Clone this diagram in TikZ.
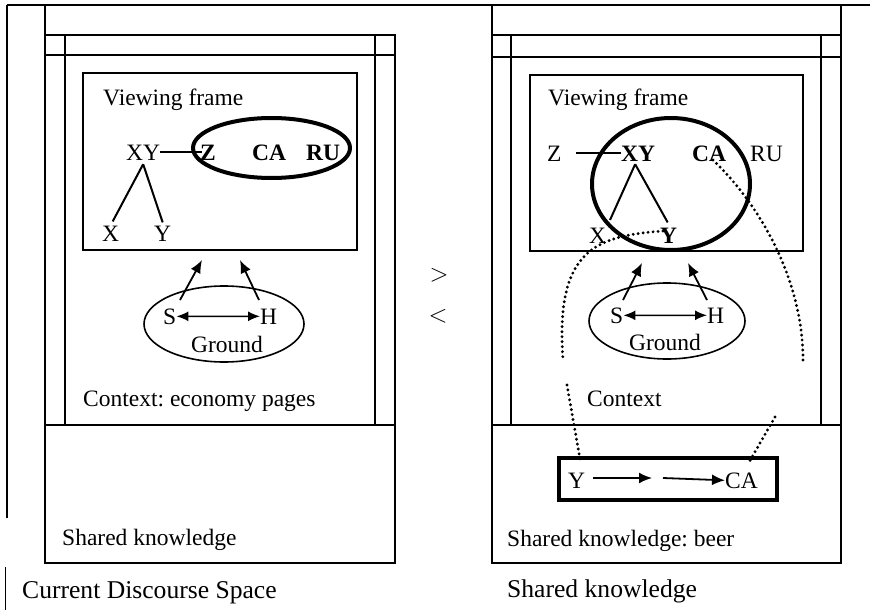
\documentclass[tikz,border=0pt]{standalone}
\usepackage{fontspec}
\setmainfont{Liberation Serif}
\usetikzlibrary{arrows.meta,shapes.geometric}
\frenchspacing
\begin{document}
\begin{tikzpicture}[x=1pt,y=-1pt,
  frame/.style={line width=2pt},
  txt/.style={inner sep=0pt,anchor=base west,font=\fontsize{23.5}{28}\selectfont},
  captxt/.style={inner sep=0pt,anchor=base west,font=\fontsize{25.6}{30}\selectfont},
  boldell/.style={draw,ellipse,line width=4pt,inner sep=0pt},
  groundell/.style={draw,ellipse,line width=1.6pt,inner sep=0pt},
  tree/.style={line width=2pt},
  arr/.style={line width=1.8pt,-{Latex[length=13pt,width=11pt]}},
  darr/.style={line width=1.6pt,{Latex[length=12pt,width=10pt]}-{Latex[length=12pt,width=10pt]}},
  dots/.style={line width=3.2pt,dash pattern=on 0pt off 5pt,line cap=round},
  rel/.style={inner sep=0pt,font=\fontsize{27}{30}\selectfont}
]
\useasboundingbox (0,0) rectangle (870,610);
\fill[white] (0,0) rectangle (870,610);

% ---------- outer lines ----------
\draw[frame] (7,5) -- (870,5);
\draw[frame] (7,5) -- (7,518);
\draw[line width=1pt] (5,567) -- (5,610);

% ---------- left panel ----------
\draw[frame] (45,5) -- (45,563) -- (395,563) -- (395,35) -- (45,35);
\draw[frame] (45,55) -- (395,55);
\draw[frame] (65,35) -- (65,425);
\draw[frame] (375,35) -- (375,425);
\draw[frame] (45,425) -- (395,425);
\draw[frame] (83,73) rectangle (357,250);

\node[txt] (lvf) at (103,105) {Viewing frame};
\node[txt] (lXY) at (126,160) {XY};
\node[txt] (lZ) at (200,160) {\textbf{Z}};
\node[txt] (lCA) at (252,160) {\textbf{CA}};
\node[txt] (lRU) at (306,160) {\textbf{RU}};
\node[txt] (lX) at (102,241) {X};
\node[txt] (lY) at (154,241) {Y};
\node[boldell,minimum width=157pt,minimum height=60pt] (lell) at (271.5,148) {};
\draw[tree] (lXY.east) -- ([xshift=2pt]lZ.west);
\draw[tree] ([yshift=-4pt]lXY.south) -- ([xshift=2pt,yshift=4pt]lX.north);
\draw[tree] ([yshift=-4pt]lXY.south) -- ([yshift=3pt]lY.north);

\node[groundell,minimum width=160pt,minimum height=76pt] (lgr) at (224,324) {};
\node[txt] (lS) at (163,324) {S};
\node[txt] (lH) at (260,324) {H};
\node[txt] (lG) at (191,352) {Ground};
\draw[darr] (lS.east) -- (lH.west);
\coordinate (la1) at (180,300);
\coordinate (la2) at (202,260);
\coordinate (lb1) at (259,300);
\coordinate (lb2) at (240,260);
\draw[arr] (la1) -- (la2);
\draw[arr] (lb1) -- (lb2);

\node[txt] (lctx) at (83,406) {Context: economy pages};
\node[txt] (lsk) at (62,545) {Shared knowledge};
\node[captxt] (lcap) at (22,598) {Current Discourse Space};

% ---------- middle ----------
\node[rel] (gt) at (439,275) {$>$};
\node[rel] (lt) at (438,316) {$<$};

% ---------- right panel ----------
\draw[frame] (492,5) -- (492,563) -- (841,563) -- (841,5);
\draw[frame] (492,35) -- (841,35);
\draw[frame] (492,57) -- (841,57);
\draw[frame] (511,35) -- (511,425);
\draw[frame] (821,35) -- (821,425);
\draw[frame] (492,425) -- (841,425);
\draw[frame] (530,75) rectangle (803,251);

\node[txt] (rvf) at (548,105) {Viewing frame};
\node[txt] (rZ) at (547,161) {Z};
\node[txt] (rXY) at (621,161) {\textbf{XY}};
\node[txt] (rCA) at (692,161) {\textbf{CA}};
\node[txt] (rRU) at (750,161) {RU};
\node[txt] (rX) at (589,243) {X};
\node[txt] (rY) at (660,243) {\textbf{Y}};
\node[boldell,minimum width=158pt,minimum height=132pt] (rell) at (671,184) {};
\draw[tree] ([xshift=14pt]rZ.east) -- (rXY.west);
\draw[tree] ([xshift=-3pt,yshift=-3pt]rXY.south) -- (610,220);
\draw[tree] ([xshift=-3pt,yshift=-3pt]rXY.south) -- ([xshift=-1pt,yshift=5pt]rY.north);

\node[groundell,minimum width=156pt,minimum height=76pt] (rgr) at (667,321) {};
\node[txt] (rS) at (610,323) {S};
\node[txt] (rH) at (707,323) {H};
\node[txt] (rG) at (629,350) {Ground};
\draw[darr] (rS.east) -- (rH.west);
\coordinate (ra1) at (623,300);
\coordinate (ra2) at (642,263);
\coordinate (rb1) at (707,300);
\coordinate (rb2) at (688,263);
\draw[arr] (ra1) -- (ra2);
\draw[arr] (rb1) -- (rb2);

\node[txt] (rctx) at (587,406) {Context};

% bottom box
\draw[line width=3.5pt] (559,458) rectangle (777,500);
\node[txt] (bY) at (568,488) {Y};
\node[txt] (bCA) at (725,488) {CA};
\coordinate (ar1s) at (593,478);
\coordinate (ar1e) at (652,478);
\coordinate (ar2s) at (663,478);
\draw[arr] (ar1s) -- (ar1e);
\draw[arr] (ar2s) -- (bCA.west);

\node[txt] (rsk) at (507,546) {Shared knowledge: beer};
\node[captxt] (rcap) at (507,597) {Shared knowledge};

% dotted links
\coordinate (d1a) at (663,231);
\coordinate (d1b) at (563,360);
\coordinate (d1c) at (567,385);
\coordinate (d1d) at (580,459);
\draw[dots] (d1a) .. controls (595,236) and (555,250) .. (d1b);
\draw[dots] (d1c) -- (d1d);
\coordinate (d2a) at (713,160);
\coordinate (d2b) at (803,360);
\coordinate (d2c) at (775,417);
\coordinate (d2d) at (748,464);
\draw[dots] (d2a) .. controls (760,205) and (803,280) .. (d2b);
\draw[dots] (d2c) -- (d2d);
\end{tikzpicture}
\end{document}
